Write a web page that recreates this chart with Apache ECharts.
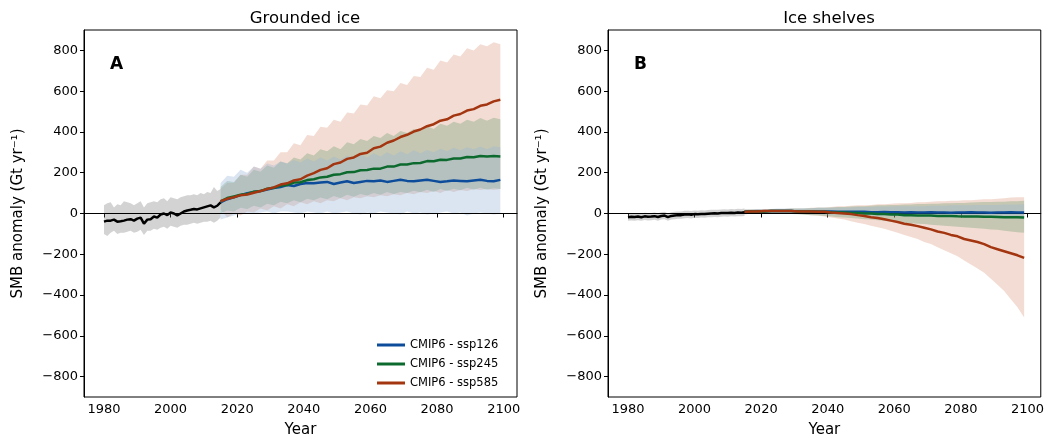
<!DOCTYPE html>
<html>
<head>
<meta charset="utf-8">
<script src="https://cdn.jsdelivr.net/npm/echarts@6/dist/echarts.min.js"></script>
<style>html,body{margin:0;background:#fff}#chart{width:1047px;height:443px}</style>
</head>
<body>
<div id="chart"></div>
<script>
// years
const histYears = [];
for (let y = 1980; y <= 2015; y++) histYears.push(y);
const scenYears = [];
for (let y = 2015; y <= 2099; y += 2) scenYears.push(y);

// panel A: grounded ice
const aHistMean = [-40,-35,-35,-30,-40,-38,-35,-30,-28,-35,-25,-20,-50,-30,-28,-15,-20,-5,0,-8,5,0,-10,0,10,15,18,22,20,25,30,35,40,30,38,55];
const aHistHi = [40,50,55,30,45,40,60,55,50,40,50,60,30,50,55,60,55,70,75,60,80,75,70,80,85,90,90,95,90,100,95,105,100,130,110,120];
const aHistLo = [-100,-110,-95,-85,-100,-95,-95,-90,-85,-95,-90,-80,-105,-85,-85,-75,-80,-70,-65,-75,-60,-65,-70,-60,-55,-55,-50,-45,-50,-45,-40,-40,-35,-45,-35,-20];

const a585 = [60,72,80,90,93,102,110,120,128,142,148,162,168,186,198,214,222,242,250,268,275,292,298,320,328,347,358,375,386,402,412,428,438,455,462,480,488,505,512,528,535,550,558];
const a585Hi = [120,150,150,190,190,230,220,260,260,300,300,345,335,385,380,425,420,460,450,495,490,535,530,575,565,605,600,640,630,675,670,715,705,750,740,780,770,810,800,830,820,840,830];
const a585Lo = [20,-20,0,-10,10,5,25,15,35,25,45,35,55,45,60,50,65,60,75,65,80,75,85,80,90,85,95,90,100,95,105,100,110,100,115,105,115,110,120,115,120,115,120];
const a245 = [60,76,84,92,96,107,110,122,126,137,140,152,153,164,168,177,180,190,193,202,203,212,213,220,220,230,230,240,240,247,248,257,256,264,263,270,270,277,276,282,280,282,280];
const a245Hi = [130,160,155,190,180,215,205,235,225,255,245,275,265,295,285,315,305,330,315,350,340,365,355,380,370,395,380,405,395,415,405,428,415,440,430,450,440,460,450,468,455,470,462];
const a245Lo = [0,15,10,28,22,38,30,48,40,58,50,65,55,72,65,78,70,86,76,92,82,96,88,100,92,106,96,106,100,112,104,116,106,120,110,122,114,126,116,126,116,124,120];
const a126 = [55,70,80,90,100,105,110,118,125,130,140,135,145,150,148,152,155,145,152,158,150,155,160,158,162,155,160,165,160,158,162,165,160,155,158,162,160,158,162,165,160,158,165];
const a126Hi = [150,185,180,215,200,230,220,245,235,255,245,262,250,270,255,275,260,280,265,285,270,290,275,295,280,300,285,305,290,310,295,312,300,318,305,322,310,325,315,328,315,330,325];
const a126Lo = [-30,-20,-10,0,0,0,5,10,0,10,10,5,0,10,5,0,10,0,5,10,0,-5,5,0,10,5,0,-5,10,0,5,-5,0,5,10,0,5,-10,0,5,0,-5,0];

// panel B: ice shelves
const bHistMean = [-18,-16,-17,-15,-18,-14,-16,-15,-13,-17,-12,-10,-18,-12,-10,-8,-8,-5,-4,-6,-3,-4,-2,-3,-1,0,1,0,2,3,2,4,3,5,4,6];
const bHistHi = [0,2,1,3,0,4,2,3,5,1,6,8,0,6,8,10,10,13,14,12,15,14,16,15,17,18,19,18,20,21,20,22,21,23,22,24];
const bHistLo = [-36,-34,-35,-33,-36,-32,-34,-33,-31,-35,-30,-28,-36,-30,-28,-26,-26,-23,-22,-24,-21,-22,-20,-21,-19,-18,-17,-18,-16,-15,-16,-14,-15,-13,-14,-12];

const b585 = [8,10,10,12,12,12,12,12,10,10,10,8,8,5,3,0,-3,-8,-12,-18,-22,-28,-35,-42,-50,-55,-62,-70,-78,-88,-95,-105,-112,-125,-132,-140,-150,-165,-175,-185,-195,-205,-218];
const b585Hi = [20,20,22,22,22,22,22,25,25,25,28,30,30,32,35,35,38,40,40,42,45,45,48,50,50,52,55,55,58,60,60,62,62,65,65,68,70,70,72,75,78,80,80];
const b585Lo = [-5,0,0,0,0,0,0,0,-2,-5,-8,-10,-15,-20,-25,-30,-38,-45,-52,-60,-68,-75,-85,-95,-105,-115,-125,-140,-150,-165,-180,-195,-210,-230,-250,-270,-290,-320,-350,-380,-420,-460,-510];
const b245 = [8,10,10,10,12,12,12,12,10,10,10,8,8,6,5,5,3,2,0,0,-2,-3,-5,-5,-8,-8,-10,-10,-10,-12,-12,-12,-14,-15,-15,-15,-16,-16,-17,-18,-18,-18,-20];
const b245Hi = [18,20,20,20,22,22,22,24,24,25,26,28,28,30,32,32,34,36,36,38,40,40,42,42,44,44,46,46,48,48,50,50,52,52,54,55,56,56,58,58,60,60,62];
const b245Lo = [0,0,0,0,0,0,0,-2,-4,-6,-8,-10,-12,-15,-18,-20,-22,-25,-28,-30,-33,-36,-40,-42,-45,-48,-50,-52,-55,-58,-60,-62,-65,-68,-70,-72,-75,-78,-80,-85,-88,-92,-95];
const b126 = [8,10,10,10,12,12,12,12,10,10,10,10,10,10,8,8,8,8,8,6,6,7,6,6,5,6,5,5,6,5,5,4,5,5,6,5,5,4,5,5,6,5,5];
const b126Hi = [20,20,22,22,22,24,24,25,25,26,26,28,28,28,30,30,30,32,32,32,34,34,34,35,35,36,36,36,38,38,38,40,40,40,40,42,42,42,42,44,44,44,45];
const b126Lo = [0,0,0,0,0,0,0,0,-2,-2,-4,-4,-5,-6,-6,-8,-8,-10,-10,-10,-12,-12,-12,-14,-14,-14,-15,-15,-16,-16,-16,-18,-18,-18,-18,-20,-20,-20,-20,-20,-20,-20,-20];

const yearTicks = [1980, 2000, 2020, 2040, 2060, 2080, 2100];
const smbTicks = [-800, -600, -400, -200, 0, 200, 400, 600, 800];

const C126 = "#0d4c9a", C245 = "#0c6a2e", C585 = "#a33610";
const font = "DejaVu Sans";

function pairs(xs, ys) { return xs.map((x, i) => [x, ys[i]]); }

function band(xs, lo, hi, color, g) {
  const data = xs.map((x, i) => [x, lo[i], hi[i]]);
  return {
    type: "custom", xAxisIndex: g, yAxisIndex: g, silent: true, z: 1,
    data: data, encode: { x: 0, y: [1, 2] },
    renderItem: function (params, api) {
      if (params.dataIndex !== 0) return;
      const top = data.map(d => api.coord([d[0], d[2]]));
      const bot = data.map(d => api.coord([d[0], d[1]])).reverse();
      return { type: "polygon", shape: { points: top.concat(bot) }, style: { fill: color } };
    }
  };
}

function line(name, xs, ys, color, g, z) {
  return {
    name: name, type: "line", xAxisIndex: g, yAxisIndex: g, data: pairs(xs, ys),
    showSymbol: false, z: z || 5, lineStyle: { color: color, width: 2.5 }, itemStyle: { color: color }
  };
}

function zero(g) {
  return {
    type: "line", xAxisIndex: g, yAxisIndex: g, data: [[1974, 0], [2104, 0]], showSymbol: false,
    lineStyle: { color: "#000", width: 1 }, z: 3, silent: true
  };
}

const axisLine = { show: true, lineStyle: { color: "#000", width: 1 } };
function xAx(g) {
  return {
    type: "value", gridIndex: g, min: 1974, max: 2104,
    name: "Year", nameLocation: "middle", nameGap: 26, nameTextStyle: { fontFamily: font, fontSize: 15, color: "#000" },
    axisLine: axisLine, splitLine: { show: false },
    axisLabel: { fontFamily: font, fontSize: 13, color: "#000", margin: 6, customValues: yearTicks, formatter: v => String(v) },
    axisTick: { show: true, length: 4, lineStyle: { color: "#000" }, customValues: yearTicks }
  };
}
function yAx(g) {
  return {
    type: "value", gridIndex: g, min: -900, max: 900,
    name: "SMB anomaly (Gt yr⁻¹)", nameLocation: "middle", nameGap: 58,
    nameTextStyle: { fontFamily: font, fontSize: 15, color: "#000" },
    axisLine: axisLine, splitLine: { show: false },
    axisLabel: { fontFamily: font, fontSize: 13, color: "#000", margin: 6, customValues: smbTicks, formatter: v => (v < 0 ? "\u2212" + (-v) : String(v)) },
    axisTick: { show: true, length: 4, lineStyle: { color: "#000" }, customValues: smbTicks }
  };
}

const gray = "rgba(110,110,110,0.3)";
const b1 = "rgba(150,180,215,0.35)", g1 = "rgba(90,150,100,0.3)", r1 = "rgba(215,140,110,0.3)";

const chart = echarts.init(document.getElementById("chart"));
chart.setOption({
  animation: false,
  title: [
    { text: "Grounded ice", left: 300, top: 5, textAlign: "center", textStyle: { fontFamily: font, fontSize: 16.5, fontWeight: "normal", color: "#000" } },
    { text: "Ice shelves", left: 824, top: 5, textAlign: "center", textStyle: { fontFamily: font, fontSize: 16.5, fontWeight: "normal", color: "#000" } },
    { text: "A", left: 105, top: 51, textStyle: { fontFamily: font, fontSize: 17, fontWeight: "bold", color: "#000" } },
    { text: "B", left: 629, top: 51, textStyle: { fontFamily: font, fontSize: 17, fontWeight: "bold", color: "#000" } }
  ],
  legend: {
    left: 372, top: 334, orient: "vertical", itemGap: 7, itemWidth: 28, itemHeight: 3,
    icon: "rect", textStyle: { fontFamily: font, fontSize: 11.5, color: "#000" },
    data: ["CMIP6 - ssp126", "CMIP6 - ssp245", "CMIP6 - ssp585"]
  },
  grid: [
    { left: 84, right: 530, top: 30, bottom: 44, show: true, borderColor: "#000", borderWidth: 1 },
    { left: 608, right: 6, top: 30, bottom: 44, show: true, borderColor: "#000", borderWidth: 1 }
  ],
  xAxis: [xAx(0), xAx(1)],
  yAxis: [yAx(0), yAx(1)],
  series: [
    band(histYears, aHistLo, aHistHi, gray, 0),
    band(scenYears, a585Lo, a585Hi, r1, 0),
    band(scenYears, a245Lo, a245Hi, g1, 0),
    band(scenYears, a126Lo, a126Hi, b1, 0),
    zero(0),
    line("hist", histYears, aHistMean, "#000", 0, 6),
    line("CMIP6 - ssp126", scenYears, a126, C126, 0),
    line("CMIP6 - ssp245", scenYears, a245, C245, 0),
    line("CMIP6 - ssp585", scenYears, a585, C585, 0),

    band(histYears, bHistLo, bHistHi, gray, 1),
    band(scenYears, b585Lo, b585Hi, r1, 1),
    band(scenYears, b245Lo, b245Hi, g1, 1),
    band(scenYears, b126Lo, b126Hi, b1, 1),
    zero(1),
    line("histB", histYears, bHistMean, "#000", 1, 6),
    line("CMIP6 - ssp126", scenYears, b126, C126, 1),
    line("CMIP6 - ssp245", scenYears, b245, C245, 1),
    line("CMIP6 - ssp585", scenYears, b585, C585, 1)
  ]
});
</script>
</body>
</html>
